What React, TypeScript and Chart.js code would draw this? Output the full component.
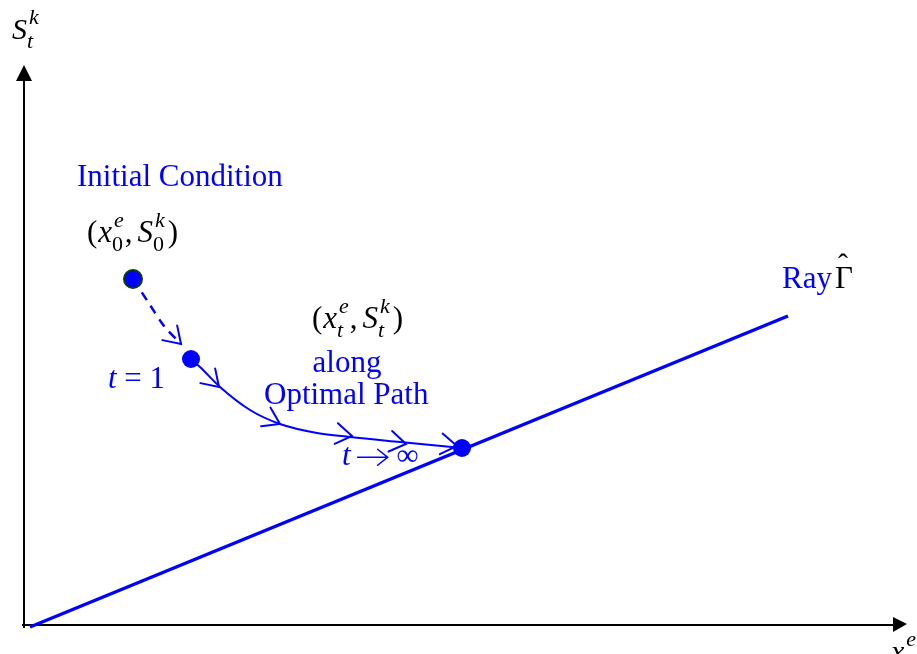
import React, { useEffect, useRef } from "react";
import { Chart, registerables } from "chart.js";

Chart.register(...registerables);

// ---- data (origin of the diagram = 0,0; units along each axis) ----
const X_MIN = -24;
const X_MAX = 893;
const Y_MIN = -29;
const Y_MAX = 625;

const axisXEnd = 883; // tip of the horizontal axis arrow
const axisYEnd = 560; // tip of the vertical axis arrow

const rayX = [6, 764];
const rayY = [-2, 309];

const dashedX = [109, 126, 140, 157];
const dashedY = [346, 320, 299, 281];

const pathX = [167, 176, 196, 226, 256, 293, 326, 376, 438];
const pathY = [266, 258, 238, 215, 201, 192, 188, 183, 177];

const pointX = [109, 167, 438];
const pointY = [346, 266, 177];

const arrowTipX = [157, 195, 256, 328, 382, 433];
const arrowTipY = [281, 238, 201, 189, 181, 179];
const arrowBackX = [146, 185, 240, 309, 365, 418];
const arrowBackY = [292, 248, 209, 192, 184, 181];

const BLUE = "#0000ff";
const FONT = '"Liberation Serif", "Times New Roman", serif';

type Run = {
  t?: string;
  it?: boolean;
  sup?: string;
  sub?: string;
  supIt?: boolean;
  subIt?: boolean;
  arrow?: number;
  gap?: number;
};

function drawMath(
  ctx: CanvasRenderingContext2D,
  x: number,
  y: number,
  runs: Run[],
  size: number,
  color: string
) {
  let cx = x;
  ctx.fillStyle = color;
  ctx.strokeStyle = color;
  ctx.textBaseline = "alphabetic";
  ctx.textAlign = "left";
  for (const r of runs) {
    if (r.arrow !== undefined) {
      const ay = y - size * 0.25;
      const L = r.arrow;
      ctx.lineWidth = 1.6;
      ctx.beginPath();
      ctx.moveTo(cx, ay);
      ctx.lineTo(cx + L, ay);
      ctx.moveTo(cx + L - 10, ay - 8);
      ctx.lineTo(cx + L, ay);
      ctx.lineTo(cx + L - 10, ay + 8);
      ctx.stroke();
      cx += L + (r.gap ?? 0);
    } else if (r.t !== undefined) {
      ctx.font = `${r.it ? "italic " : ""}${size}px ${FONT}`;
      ctx.fillText(r.t, cx, y);
      cx += ctx.measureText(r.t).width + (r.gap ?? 0);
    } else {
      const s = Math.round(size * 0.72);
      let w = 0;
      if (r.sup) {
        ctx.font = `${r.supIt === false ? "" : "italic "}${s}px ${FONT}`;
        ctx.fillText(r.sup, cx + 2, y - size * 0.5);
        w = Math.max(w, ctx.measureText(r.sup).width + 2);
      }
      if (r.sub) {
        ctx.font = `${r.subIt ? "italic " : ""}${s}px ${FONT}`;
        ctx.fillText(r.sub, cx, y + size * 0.3);
        w = Math.max(w, ctx.measureText(r.sub).width);
      }
      cx += w + (r.gap ?? 1);
    }
  }
  return cx;
}

const diagramPlugin = {
  id: "diagram",
  beforeDatasetsDraw(chart: any) {
    const ctx: CanvasRenderingContext2D = chart.ctx;
    const xs = chart.scales.x;
    const ys = chart.scales.y;
    const ox = xs.getPixelForValue(0);
    const oy = ys.getPixelForValue(0);
    ctx.save();
    ctx.strokeStyle = "#000";
    ctx.fillStyle = "#000";
    ctx.lineWidth = 2;
    // vertical axis
    const yTip = ys.getPixelForValue(axisYEnd);
    ctx.beginPath();
    ctx.moveTo(ox, oy + 3);
    ctx.lineTo(ox, yTip + 14);
    ctx.stroke();
    ctx.beginPath();
    ctx.moveTo(ox, yTip);
    ctx.lineTo(ox - 8, yTip + 16);
    ctx.lineTo(ox + 8, yTip + 16);
    ctx.closePath();
    ctx.fill();
    // horizontal axis
    const xTip = xs.getPixelForValue(axisXEnd);
    ctx.beginPath();
    ctx.moveTo(ox - 2, oy);
    ctx.lineTo(xTip - 12, oy);
    ctx.stroke();
    ctx.beginPath();
    ctx.moveTo(xTip, oy - 1);
    ctx.lineTo(xTip - 14, oy - 8);
    ctx.lineTo(xTip - 14, oy + 7);
    ctx.closePath();
    ctx.fill();
    ctx.restore();
  },
  afterDatasetsDraw(chart: any) {
    const ctx: CanvasRenderingContext2D = chart.ctx;
    const xs = chart.scales.x;
    const ys = chart.scales.y;
    const px = (v: number) => xs.getPixelForValue(v);
    const py = (v: number) => ys.getPixelForValue(v);
    ctx.save();
    // open arrow heads along the path
    ctx.strokeStyle = BLUE;
    ctx.lineWidth = 2;
    ctx.lineCap = "round";
    for (let i = 0; i < arrowTipX.length; i++) {
      const tx = px(arrowTipX[i]);
      const ty = py(arrowTipY[i]);
      const bx = px(arrowBackX[i]);
      const by = py(arrowBackY[i]);
      const a = Math.atan2(ty - by, tx - bx);
      const L = 19;
      const h = 0.58;
      ctx.beginPath();
      ctx.moveTo(tx - L * Math.cos(a - h), ty - L * Math.sin(a - h));
      ctx.lineTo(tx, ty);
      ctx.lineTo(tx - L * Math.cos(a + h), ty - L * Math.sin(a + h));
      ctx.stroke();
    }

    // texts
    ctx.textBaseline = "alphabetic";
    ctx.textAlign = "left";
    ctx.fillStyle = BLUE;
    ctx.font = `31px ${FONT}`;
    ctx.fillText("Initial Condition", px(53), py(439));
    ctx.textAlign = "center";
    ctx.fillText("along", px(323), py(253));
    ctx.textAlign = "left";
    ctx.fillText("Optimal Path", px(240), py(221));
    ctx.fillText("Ray", px(758), py(337));

    // Gamma hat
    ctx.fillStyle = "#000";
    ctx.font = `31px ${FONT}`;
    const gx = px(811);
    const gy = py(337);
    ctx.fillText("\u0393", gx, gy);
    ctx.font = `30px ${FONT}`;
    ctx.fillText("\u02C6", gx + 3, gy - 14);

    // t = 1
    drawMath(ctx, px(84), py(237), [{ t: "t", it: true, gap: 0 }, { t: " = 1" }], 31, BLUE);
    // t -> infinity
    drawMath(
      ctx,
      px(318),
      py(160),
      [{ t: "t", it: true, gap: 7 }, { arrow: 30, gap: 9 }, { t: "\u221E" }],
      31,
      BLUE
    );

    // (x0e, S0k)
    drawMath(
      ctx,
      px(63),
      py(383),
      [
        { t: "(", gap: 1 },
        { t: "x", it: true },
        { sup: "e", sub: "0", supIt: true, subIt: false },
        { t: ",", gap: 5 },
        { t: "S", it: true },
        { sup: "k", sub: "0", supIt: true, subIt: false, gap: 3 },
        { t: ")" },
      ],
      31,
      "#000"
    );
    // (xte, Stk)
    drawMath(
      ctx,
      px(288),
      py(297),
      [
        { t: "(", gap: 1 },
        { t: "x", it: true },
        { sup: "e", sub: "t", supIt: true, subIt: true },
        { t: ",", gap: 5 },
        { t: "S", it: true },
        { sup: "k", sub: "t", supIt: true, subIt: true, gap: 3 },
        { t: ")" },
      ],
      31,
      "#000"
    );
    // axis labels
    drawMath(
      ctx,
      px(-12),
      py(586),
      [{ t: "S", it: true }, { sup: "k", sub: "t", supIt: true, subIt: true }],
      30,
      "#000"
    );
    drawMath(
      ctx,
      px(867),
      py(-36),
      [{ t: "x", it: true }, { sup: "e", sub: "t", supIt: true, subIt: true }],
      30,
      "#000"
    );
    ctx.restore();
  },
};

export default function App() {
  const ref = useRef<HTMLCanvasElement | null>(null);
  useEffect(() => {
    if (!ref.current) return;
    const toPts = (xs: number[], ys: number[]) => xs.map((x, i) => ({ x, y: ys[i] }));
    const chart = new Chart(ref.current, {
      type: "scatter",
      data: {
        datasets: [
          {
            data: toPts(rayX, rayY),
            showLine: true,
            borderColor: BLUE,
            borderWidth: 3.5,
            pointRadius: 0,
            order: 4,
          },
          {
            data: toPts(dashedX, dashedY),
            showLine: true,
            borderColor: BLUE,
            borderWidth: 2.5,
            borderDash: [9, 7],
            pointRadius: 0,
            tension: 0.3,
            order: 3,
          },
          {
            data: toPts(pathX, pathY),
            showLine: true,
            borderColor: BLUE,
            borderWidth: 2,
            pointRadius: 0,
            cubicInterpolationMode: "monotone",
            order: 2,
          },
          {
            data: toPts(pointX, pointY),
            showLine: false,
            backgroundColor: BLUE,
            borderColor: ["#0b3d0b", BLUE, BLUE],
            borderWidth: [2, 0, 0],
            pointRadius: [9, 9, 9],
            order: 1,
          },
        ] as any,
      },
      options: {
        animation: false,
        responsive: false,
        layout: { padding: 0, autoPadding: false },
        plugins: { legend: { display: false }, tooltip: { enabled: false } },
        scales: {
          x: { type: "linear", min: X_MIN, max: X_MAX, display: false },
          y: { type: "linear", min: Y_MIN, max: Y_MAX, display: false },
        },
      },
      plugins: [diagramPlugin],
    });
    return () => chart.destroy();
  }, []);
  return (
    <div style={{ position: "absolute", left: 0, top: 0, width: 917, height: 654, background: "#fff" }}>
      <canvas ref={ref} width={917} height={654} style={{ display: "block" }} />
    </div>
  );
}
